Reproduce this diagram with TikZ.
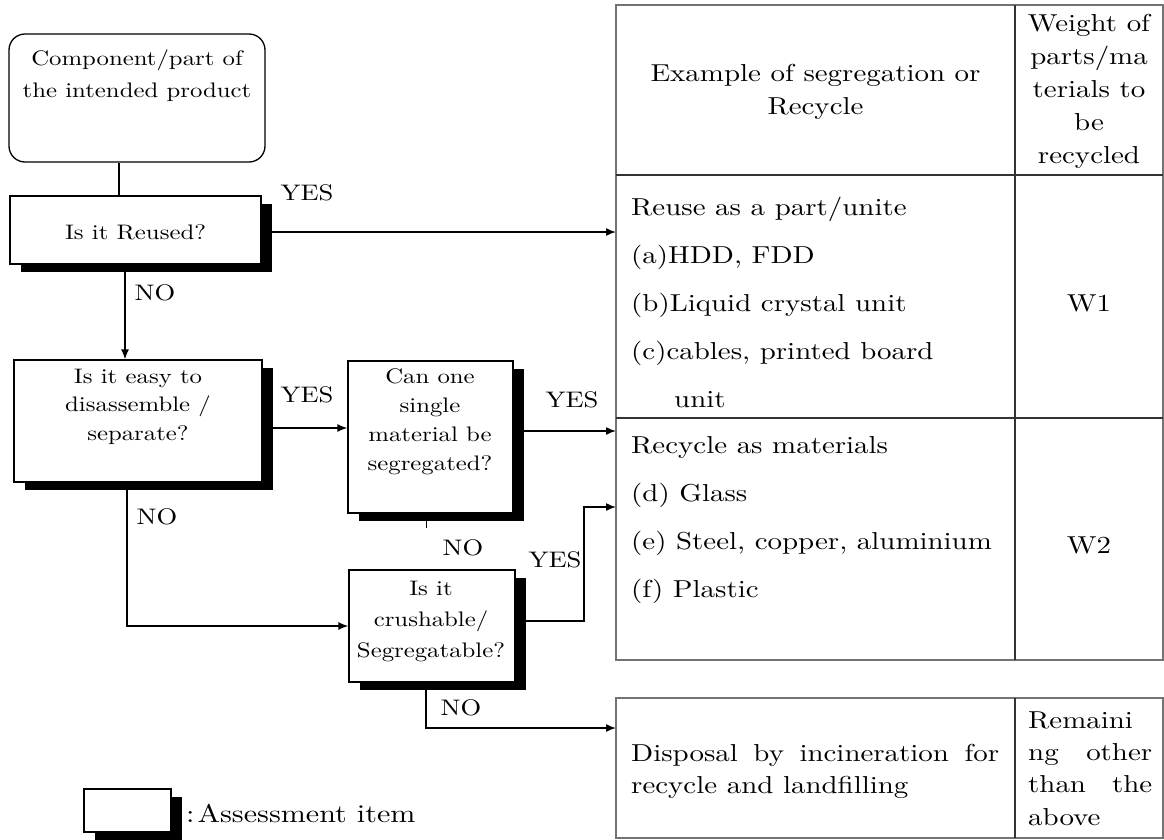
\documentclass[tikz,border=0pt]{standalone}
\usepackage{fontspec}
\setmainfont{lmroman10-regular.otf}[FakeStretch=1.18]
\usetikzlibrary{positioning,arrows.meta,shadows}

\tikzset{
  qbox/.style={draw,line width=1.3pt,fill=white,inner sep=0pt,
    drop shadow={shadow xshift=11pt,shadow yshift=-8pt,fill=black,opacity=1}},
  qtext/.style={align=center,inner sep=0pt,font=\fontsize{21}{29}\selectfont},
  yn/.style={inner sep=0pt,font=\fontsize{22.5}{27}\selectfont},
  cell/.style={inner sep=0pt,font=\fontsize{24.5}{48}\selectfont},
  flow/.style={line width=1.5pt},
  tabframe/.style={draw=black!55,line width=2.4pt},
  tabrule/.style={draw=black!80,line width=1.3pt},
}

\begin{document}
\begin{tikzpicture}[x=1pt,y=-1pt,>={Latex[length=10pt,width=8pt]}]
		\fill[white] (0,0) rectangle (1164,840);
		\useasboundingbox (0,0) rectangle (1164,840);
		
		% flow chart
		\node[draw,line width=1.3pt,rounded corners=16pt,minimum width=256pt,minimum height=128pt] (start) at (137,98) {};
		\node[qtext,font=\fontsize{21}{32}\selectfont] (startText) at (137,76) {Component/part of\\the intended product};
		
		\node[qbox,minimum width=251pt,minimum height=68pt] (reused) at (135.5,230) {};
		\node[qtext] (reusedText) at (135.5,232) {Is it Reused?};
		
		\node[qbox,minimum width=248pt,minimum height=122pt] (easy) at (138,421) {};
		\node[qtext,font=\fontsize{21}{28.5}\selectfont] (easyText) at (138,406.5) {Is it easy to\\disassemble /\\separate?};
		
		\node[qbox,minimum width=165pt,minimum height=152pt] (can) at (430.5,437) {};
		\node[qtext] (canText) at (430,421.5) {Can one\\single\\material be\\segregated?};
		
		\node[qbox,minimum width=166pt,minimum height=112pt] (crush) at (432,626) {};
		\node[qtext,font=\fontsize{21}{31}\selectfont] (crushText) at (431,621) {Is it\\crushable/\\Segregatable?};
		
		\coordinate (tabW) at (616,0);
		\coordinate (crushUp) at (584,507);
		\coordinate (disIn) at (616,728);
		
		\draw[flow] ([xshift=-18pt]start.south) -- ([xshift=-18pt]start.south |- reused.north);
		\draw[flow,->] ([yshift=-2pt]reused.east) -- ([yshift=-2pt]reused.east -| tabW);
		\draw[flow,->] ([xshift=-10.5pt]reused.south) -- ([xshift=-10.5pt]reused.south |- easy.north);
		\draw[flow,->] ([yshift=-7pt]easy.east) -- ([yshift=-7pt]easy.east -| can.west);
		\draw[flow,->] ([yshift=6pt]can.east) -- ([yshift=6pt]can.east -| tabW);
		\draw[flow] ([xshift=-4pt]can.south) -- ++(0,14);
		\draw[flow,->] ([xshift=-11pt]easy.south) |- (crush.west);
		\draw[flow,->] ([yshift=5pt]crush.east) -| (crushUp) -- (crushUp -| tabW);
		\draw[flow,->] ([xshift=-6pt]crush.south) |- (disIn);
		
		\node[yn] (yes1) at (307,193) {YES};
		\node[yn] (no1) at (155,293) {NO};
		\node[yn] (yes2) at (307,395) {YES};
		\node[yn] (yes3) at (572,400) {YES};
		\node[yn] (no2) at (157,517) {NO};
		\node[yn] (no3) at (463,548) {NO};
		\node[yn] (yes4) at (555,560) {YES};
		\node[yn] (no4) at (461,708) {NO};
		
		% legend
		\node[qbox,minimum width=87pt,minimum height=43pt] (legend) at (127.5,810.5) {};
		\node[inner sep=0pt,anchor=west,font=\fontsize{25.5}{30}\selectfont] (legendText) at (186,814) {:\kern3pt Assessment item};
		
		% tables
		\draw[tabframe] (616,5) rectangle (1163,660);
		\draw[tabrule] (1015,5) -- (1015,660) (616,175) -- (1163,175) (616,418) -- (1163,418);
		\draw[tabframe] (616,698) rectangle (1163,838);
		\draw[tabrule] (1015,698) -- (1015,838);
		
		\node[cell,align=center,font=\fontsize{24.5}{33}\selectfont] (headEx) at (815.5,91.5) {Example of segregation or\\Recycle};
		\node[cell,align=center,font=\fontsize{24.5}{33}\selectfont] (headW) at (1089,91.5) {Weight of\\parts/ma\\terials to\\be\\recycled};
		
		\node[cell,align=left,anchor=west] (reuseList) at (631,302.5) {Reuse as a part/unite\\(a)HDD, FDD\\(b)Liquid crystal unit\\(c)cables, printed board\\\hspace*{43pt}unit};
		\node[cell] (w1) at (1089,303) {W1};
		
		\node[cell,align=left,anchor=west] (recycleList) at (631,520) {Recycle as materials\\(d) Glass\\(e) Steel, copper, aluminium\\(f) Plastic};
		\node[cell] (w2) at (1089,545) {W2};
		
		\node[cell,align=left,anchor=west,font=\fontsize{24.5}{32}\selectfont] (disposal) at (631,771) {\makebox[368pt][s]{Disposal by incineration for}\\recycle and landfilling};
		\node[cell,align=left,anchor=west,font=\fontsize{24.5}{32.3}\selectfont] (remain) at (1028,768.5) {Remaini\\\makebox[124pt][s]{ng other}\\\makebox[124pt][s]{than the}\\above};
	\end{tikzpicture}
\end{document}
